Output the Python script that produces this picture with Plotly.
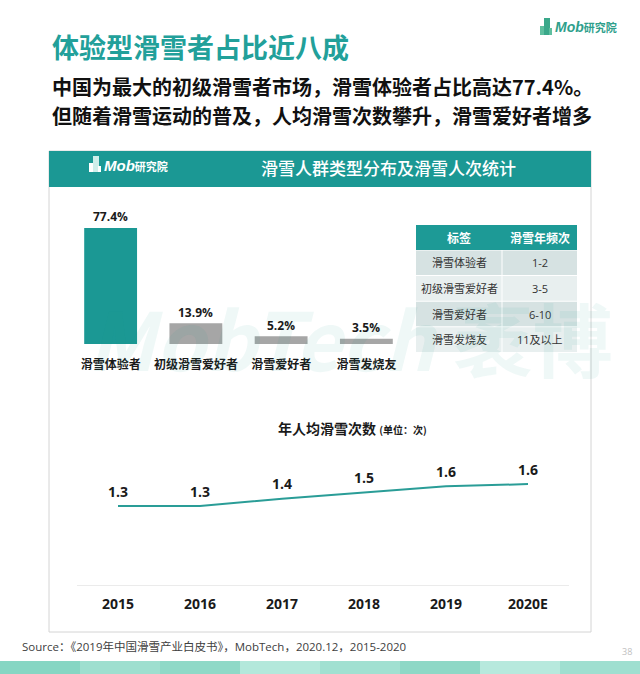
import plotly.graph_objects as go

W, H = 640, 674

# share of skier types (%)
segments = ["滑雪体验者", "初级滑雪爱好者", "滑雪爱好者", "滑雪发烧友"]
share = [77.4, 13.9, 5.2, 3.5]
bar_colors = ["#1b9894", "#a6a6a6", "#a6a6a6", "#a6a6a6"]

# yearly ski frequency table
table_head = ["标签", "滑雪年频次"]
table_labels = ["滑雪体验者", "初级滑雪爱好者", "滑雪爱好者", "滑雪发烧友"]
table_freq = ["1-2", "3-5", "6-10", "11及以上"]

# average ski visits per person per year
years = ["2015", "2016", "2017", "2018", "2019", "2020E"]
per_capita = [1.30, 1.30, 1.40, 1.48, 1.57, 1.60]

FONT = "Open Sans, Noto Sans CJK SC, sans-serif"
CJK = "Noto Sans CJK SC, sans-serif"
TEAL = "#1b9894"


def X(p):
    return p / W


def Y(p):
    return 1 - p / H


def note(x, y, text, size, color, family=CJK, anchor="center", **kw):
    return dict(xref="paper", yref="paper", x=X(x), y=Y(y), xanchor=anchor, yanchor="middle",
                showarrow=False, text=text, font=dict(family=family, size=size, color=color), **kw)


fig = go.Figure()

fig.add_trace(go.Bar(
    x=segments, y=share, marker=dict(color=bar_colors, line=dict(width=0)),
    width=0.62, xaxis="x", yaxis="y", hoverinfo="skip", showlegend=False
))

fig.add_trace(go.Scatter(
    x=years, y=per_capita, mode="lines",
    line=dict(color="#2a9d97", width=2),
    xaxis="x2", yaxis="y2", hoverinfo="skip", showlegend=False
))

shapes = []
annotations = []

# panel + header bar
shapes.append(dict(type="rect", xref="paper", yref="paper", x0=X(49), x1=X(591), y0=Y(632), y1=Y(151),
                   line=dict(color="#d4d4d4", width=1), fillcolor="white", layer="below"))
shapes.append(dict(type="rect", xref="paper", yref="paper", x0=X(49), x1=X(591), y0=Y(187), y1=Y(151),
                   line=dict(width=0), fillcolor=TEAL, layer="below"))

# bottom decorative band
band = ["#86d6c3", "#9edfcf", "#8fd9c7", "#b3e8db", "#a1e0d1", "#8ed8c6", "#b7e9dd", "#9fdfd0"]
for i, c in enumerate(band):
    shapes.append(dict(type="rect", xref="paper", yref="paper", x0=X(i * 80), x1=X(i * 80 + 80),
                       y0=0, y1=Y(661), line=dict(width=0), fillcolor=c, layer="below"))

# header logo icon (white) and top-right logo icon (green)
for (x0, x1, y0, y1, c) in [(89, 94, 163, 172, "#ffffff"), (93, 99, 156, 172, "#cfeeea"), (98, 101, 166, 172, "#ffffff"),
                            (540, 545, 26, 35, "#5fbf9f"), (544, 550, 18, 35, "#3aa88a"), (549, 552, 28, 35, "#5fbf9f")]:
    shapes.append(dict(type="rect", xref="paper", yref="paper", x0=X(x0), x1=X(x1), y0=Y(y1), y1=Y(y0),
                       line=dict(width=0), fillcolor=c))

# table
tx = [416, 502, 577]
row_h = 25.6
top = 225
shapes.append(dict(type="rect", xref="paper", yref="paper", x0=X(tx[0]), x1=X(tx[2]), y0=Y(top + 25), y1=Y(top),
                   line=dict(width=0), fillcolor="#1d9a96"))
for j, txt in enumerate(table_head):
    annotations.append(note((tx[j] + tx[j + 1]) / 2, top + 12.5, "<b>" + txt + "</b>", 12, "white"))
for i, (lab, fr) in enumerate(zip(table_labels, table_freq)):
    y0 = top + 25 + i * row_h
    fill = "#d6e2e2" if i % 2 == 0 else "#e8efef"
    for j, txt in enumerate([lab, fr]):
        shapes.append(dict(type="rect", xref="paper", yref="paper",
                           x0=X(tx[j] + (0.5 if j else 0)), x1=X(tx[j + 1] - (0.5 if not j else 0)),
                           y0=Y(y0 + row_h - 0.5), y1=Y(y0 + 0.5), line=dict(width=0), fillcolor=fill))
        annotations.append(note((tx[j] + tx[j + 1]) / 2, y0 + row_h / 2, txt, 11, "#333333", family=FONT))

# faint watermark
annotations.append(note(350, 336, "<b><i>MobTech</i> 袤博</b>", 80, "rgba(27,152,148,0.07)",
                        family="Liberation Sans Narrow, " + CJK))

# bar value labels
for s, v in zip(segments, share):
    annotations.append(dict(xref="x", yref="y", x=s, y=v, yshift=11, showarrow=False,
                            text="<b>%.1f%%</b>" % v, font=dict(family=FONT, size=12, color="#1a1a1a")))

# line value labels
for i, v in enumerate(per_capita):
    annotations.append(dict(xref="x2", yref="y2", x=i, y=v, yshift=15, showarrow=False,
                            text="<b>%.1f</b>" % v, font=dict(family=FONT, size=14, color="#1a1a1a")))

# texts
annotations += [
    note(50, 46, "<b>体验型滑雪者占比近八成</b>", 27, "#22a09a", anchor="left"),
    note(50, 87, "<b>中国为最大的初级滑雪者市场，滑雪体验者占比高达77.4%。</b>", 20, "#111111", anchor="left"),
    note(50, 116, "<b>但随着滑雪运动的普及，人均滑雪次数攀升，滑雪爱好者增多</b>", 20, "#111111", anchor="left"),
    dict(note(388, 168, "滑雪人群类型分布及滑雪人次统计", 17, "white"),
         font=dict(family=CJK, size=17, color="white", weight=500)),
    note(102, 166, "<b><i>Mob</i></b><span style='font-size:11px'><b>研究院</b></span>", 15, "white",
         family="Liberation Sans, " + CJK, anchor="left"),
    note(553, 27, "<b><i>Mob</i></b><span style='font-size:11px'><b>研究院</b></span>", 14, "#2f9f8c",
         family="Liberation Sans, " + CJK, anchor="left"),
    note(352, 428, "<b>年人均滑雪次数</b> <span style='font-size:10px'><b>(单位：次)</b></span>", 14, "#1a1a1a"),
    note(20, 646, "Source：《2019年中国滑雪产业白皮书》，MobTech，2020.12，2015-2020", 11.5, "#404040",
         family=FONT, anchor="left"),
    note(627, 651, "38", 9, "#c0c0c0", family=FONT),
]

fig.update_layout(
    width=W, height=H, margin=dict(l=0, r=0, t=0, b=0),
    paper_bgcolor="white", plot_bgcolor="rgba(0,0,0,0)",
    showlegend=False, shapes=shapes, annotations=annotations,
    xaxis=dict(domain=[X(68), X(409)], range=[-0.5, 3.5], type="category", anchor="y",
               showgrid=False, zeroline=False, showline=False, ticks="", ticklabelstandoff=12,
               tickfont=dict(family=CJK, size=12, color="#1a1a1a", weight="bold"), fixedrange=True),
    yaxis=dict(domain=[Y(344), Y(214)], range=[0, 130 / 1.5], visible=False, fixedrange=True),
    xaxis2=dict(domain=[X(77), X(569)], range=[-0.5, 5.5], type="category", anchor="y2",
                showgrid=False, zeroline=False, showline=True, linecolor="#ebebeb", linewidth=1,
                ticks="", ticklabelstandoff=6,
                tickfont=dict(family=FONT, size=14, color="#1a1a1a", weight="bold"), fixedrange=True),
    yaxis2=dict(domain=[Y(585), Y(455)], range=[1.30 - 79 / 73, 1.30 + 51 / 73], visible=False, fixedrange=True),
)

fig.write_html("out.html", config={"displayModeBar": False},
               post_script="document.body.style.margin='0';")
